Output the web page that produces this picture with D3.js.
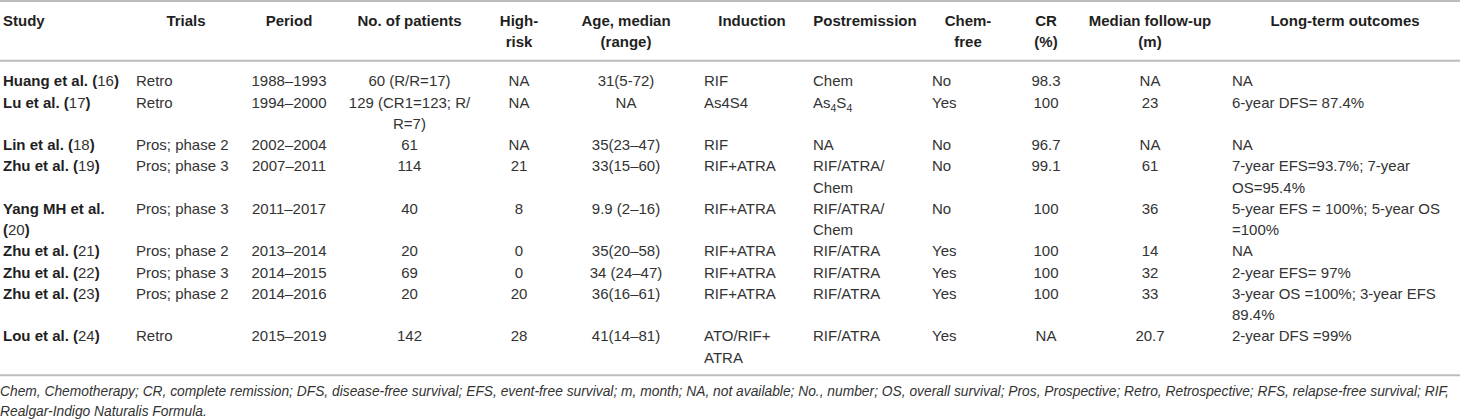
<!DOCTYPE html>
<html>
<head>
<meta charset="utf-8">
<script src="https://cdn.jsdelivr.net/npm/d3@7"></script>
<style>
  body { margin: 0; background: #fff; }
  svg text { font-family: "Liberation Sans", Arial, sans-serif; }
</style>
</head>
<body>
<svg id="table" width="1460" height="420"></svg>
<script>
// Table contents, one array per column
const headers = ["Study", "Trials", "Period", "No. of patients", "High-risk", "Age, median (range)",
    "Induction", "Postremission", "Chem-free", "CR (%)", "Median follow-up (m)", "Long-term outcomes"];
const studies = ["Huang et al.", "Lu et al.", "Lin et al.", "Zhu et al.", "Yang MH et al.",
    "Zhu et al.", "Zhu et al.", "Zhu et al.", "Lou et al."];
const refs = ["16", "17", "18", "19", "20", "21", "22", "23", "24"];
const trials = ["Retro", "Retro", "Pros; phase 2", "Pros; phase 3", "Pros; phase 3",
    "Pros; phase 2", "Pros; phase 3", "Pros; phase 2", "Retro"];
const periods = ["1988–1993", "1994–2000", "2002–2004", "2007–2011", "2011–2017",
    "2013–2014", "2014–2015", "2014–2016", "2015–2019"];
const patients = ["60 (R/R=17)", "129 (CR1=123; R/R=7)", "61", "114", "40", "20", "69", "20", "142"];
const highRisk = ["NA", "NA", "NA", "21", "8", "0", "0", "20", "28"];
const ages = ["31(5-72)", "NA", "35(23–47)", "33(15–60)", "9.9 (2–16)", "35(20–58)",
    "34 (24–47)", "36(16–61)", "41(14–81)"];
const induction = ["RIF", "As4S4", "RIF", "RIF+ATRA", "RIF+ATRA", "RIF+ATRA", "RIF+ATRA",
    "RIF+ATRA", "ATO/RIF+ATRA"];
const postremission = ["Chem", "As₄S₄", "NA", "RIF/ATRA/Chem", "RIF/ATRA/Chem", "RIF/ATRA",
    "RIF/ATRA", "RIF/ATRA", "RIF/ATRA"];
const chemFree = ["No", "Yes", "No", "No", "No", "Yes", "Yes", "Yes", "Yes"];
const crRates = ["98.3", "100", "96.7", "99.1", "100", "100", "100", "100", "NA"];
const followUp = ["NA", "23", "NA", "61", "36", "14", "32", "33", "20.7"];
const outcomes = ["NA", "6-year DFS= 87.4%", "NA", "7-year EFS=93.7%; 7-year OS=95.4%",
    "5-year EFS = 100%; 5-year OS =100%", "NA", "2-year EFS= 97%",
    "3-year OS =100%; 3-year EFS 89.4%", "2-year DFS =99%"];
const footnote = "Chem, Chemotherapy; CR, complete remission; DFS, disease-free survival; " +
    "EFS, event-free survival; m, month; NA, not available; No., number; OS, overall survival; " +
    "Pros, Prospective; Retro, Retrospective; RFS, relapse-free survival; RIF, " +
    "Realgar-Indigo Naturalis Formula.";

// Column layout: header anchor, cell anchor and wrap widths
const columns = [
    { values: studies, hx: 3, hAnchor: "start", x: 3, anchor: "start", wrap: 125, hwrap: 400, study: true },
    { values: trials, hx: 186, hAnchor: "middle", x: 136, anchor: "start", wrap: 110, hwrap: 400 },
    { values: periods, hx: 289, hAnchor: "middle", x: 289, anchor: "middle", wrap: 90, hwrap: 400 },
    { values: patients, hx: 409.5, hAnchor: "middle", x: 409.5, anchor: "middle", wrap: 130, hwrap: 130 },
    { values: highRisk, hx: 519, hAnchor: "middle", x: 519, anchor: "middle", wrap: 50, hwrap: 50 },
    { values: ages, hx: 626, hAnchor: "middle", x: 626, anchor: "middle", wrap: 110, hwrap: 110 },
    { values: induction, hx: 752, hAnchor: "middle", x: 704, anchor: "start", wrap: 90, hwrap: 400 },
    { values: postremission, hx: 865, hAnchor: "middle", x: 813, anchor: "start", wrap: 90, hwrap: 400 },
    { values: chemFree, hx: 968, hAnchor: "middle", x: 932, anchor: "start", wrap: 55, hwrap: 55 },
    { values: crRates, hx: 1046, hAnchor: "middle", x: 1046, anchor: "middle", wrap: 35, hwrap: 35 },
    { values: followUp, hx: 1150, hAnchor: "middle", x: 1150, anchor: "middle", wrap: 135, hwrap: 135 },
    { values: outcomes, hx: 1345, hAnchor: "middle", x: 1232, anchor: "start", wrap: 220, hwrap: 400 }
];

const FONT = "15px 'Liberation Sans', Arial, sans-serif";
const BOLD = "bold 15px 'Liberation Sans', Arial, sans-serif";
const ITALIC = "italic 13.8px 'Liberation Sans', Arial, sans-serif";
const textColor = "#333";
const boldColor = "#1f1f1f";
const ruleColor = "#bdbdbd";

// Measure text with a canvas context
const ctx = document.createElement("canvas").getContext("2d");
function measure(str, font) {
    ctx.font = font;
    return ctx.measureText(str).width;
}

// Greedy wrap, breaking after spaces, slashes, plus signs and hyphens
function wrapLines(str, width, font, breakRe = /(?<=[ \/+-])/) {
    const tokens = str.split(breakRe);
    const lines = [];
    let cur = "";
    tokens.forEach(t => {
        const test = cur + t;
        if (cur && measure(test.trimEnd(), font) > width) {
            lines.push(cur.trimEnd());
            cur = t;
        } else {
            cur = test;
        }
    });
    if (cur) lines.push(cur.trimEnd());
    return lines;
}

// Write a line, turning unicode subscript digits into shifted tspans
const subDigits = "₀₁₂₃₄₅₆₇₈₉";
function writeLine(text, line) {
    const runs = line.split(/([₀-₉]+)/).filter(r => r.length);
    let shifted = false;
    runs.forEach(r => {
        if (/[₀-₉]/.test(r)) {
            text.append("tspan")
                .attr("font-size", 10.5)
                .attr("dy", 4)
                .text([...r].map(c => subDigits.indexOf(c)).join(""));
            shifted = true;
        } else {
            text.append("tspan")
                .attr("dy", shifted ? -4 : null)
                .text(r);
            shifted = false;
        }
    });
}

const svg = d3.select("#table");

// Wrap every cell, then count lines per row
const nRows = studies.length;
const cells = columns.map(col => col.values.map((v, i) => {
    if (col.study) return wrapLines(`${v} (${refs[i]})`, col.wrap, BOLD, /(?<= )/);
    return wrapLines(v, col.wrap, FONT);
}));
const rowLines = d3.range(nRows).map(i => d3.max(cells, c => c[i].length));
const rowStart = [0, ...d3.cumsum(rowLines)];
const totalLines = rowStart[nRows];

// Vertical scales for header and body lines
const headerY = d3.scaleLinear().domain([0, 1]).range([20.7, 41.7]);
const lineY = d3.scaleLinear().domain([0, 1]).range([81, 102.25]);

// Rules
const headerRule = 60.7;
const bottomRule = lineY(totalLines - 1) + 18;
svg.append("g")
    .selectAll("line")
    .data([1, headerRule, bottomRule])
    .join("line")
    .attr("x1", 0)
    .attr("x2", 1460)
    .attr("y1", d => d)
    .attr("y2", d => d)
    .attr("stroke", ruleColor)
    .attr("stroke-width", 2);

// Header cells
const head = svg.append("g");
columns.forEach((col, j) => {
    const lines = wrapLines(headers[j], col.hwrap, BOLD);
    lines.forEach((line, k) => {
        head.append("text")
            .attr("x", col.hx)
            .attr("y", headerY(k))
            .attr("dy", "0.36em")
            .attr("text-anchor", col.hAnchor)
            .attr("font-size", 15)
            .attr("font-weight", "bold")
            .attr("fill", boldColor)
            .text(line);
    });
});

// Body cells
const body = svg.append("g");
columns.forEach((col, j) => {
    cells[j].forEach((lines, i) => {
        lines.forEach((line, k) => {
            const text = body.append("text")
                .attr("x", col.x)
                .attr("y", lineY(rowStart[i] + k))
                .attr("dy", "0.36em")
                .attr("text-anchor", col.anchor)
                .attr("font-size", 15)
                .attr("fill", textColor);
            if (col.study) {
                // bold name and brackets, regular reference number
                line.split(/(\d+)(?=\))/).forEach((part, p) => {
                    text.append("tspan")
                        .attr("font-weight", p % 2 ? "normal" : "bold")
                        .attr("fill", p % 2 ? textColor : boldColor)
                        .text(part);
                });
            } else {
                writeLine(text, line);
            }
        });
    });
});

// Footnote
const noteLines = wrapLines(footnote, 1458, ITALIC, /(?<= )/);
svg.append("g")
    .selectAll("text")
    .data(noteLines)
    .join("text")
    .attr("x", 0)
    .attr("y", (d, k) => bottomRule + 15.7 + k * 20)
    .attr("dy", "0.36em")
    .attr("font-size", 13.8)
    .attr("font-style", "italic")
    .attr("fill", textColor)
    .text(d => d);
</script>
</body>
</html>
